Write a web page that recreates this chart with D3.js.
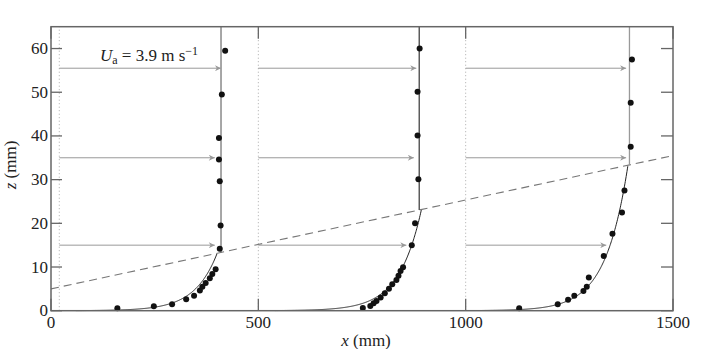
<!DOCTYPE html>
<html><head><meta charset="utf-8">
<script src="https://cdn.jsdelivr.net/npm/d3@7"></script>
<style>body{margin:0;background:#fff}svg{display:block}</style>
</head><body><svg id="c" width="708" height="349"></svg>
<script>
// ---- data ----
const xTicks = [0, 500, 1000, 1500];
const yTicks = [0, 10, 20, 30, 40, 50, 60];
const profileX0 = [20, 500, 1000];          // profile origins (mm)
const profileU = [390, 388, 395];           // free-stream offset (mm)
const logZ0 = [0.0114, 0.0159, 0.0237];     // log-law roughness fit (mm)
const logC = 54;                            // log-law scale (mm per e-fold)
const blX = [0, 1500];                      // boundary-layer edge (dashed)
const blZ = [5, 35.5];
const arrowZ = [55.5, 35, 15];
const arrowEnd = [[410, 395, 395], [881, 875, 857], [1387, 1387, 1339]];
const dots1 = [[420,59.5],[412,49.5],[405,39.5],[405,34.6],[407,29.6],[409,19.5],[407,14.2],[397,9.5],[389,8.4],[383,7.4],[373,6.35],[365,5.5],[359,4.6],[345,3.45],[326,2.6],[292,1.5],[248,1.0],[160,0.55]];
const dots2 = [[889,60],[884,50.1],[884,40.1],[886,30.1],[878,20],[870,15],[849,9.95],[843,9.1],[838,8.0],[833,7.0],[823,6.05],[815,5.05],[805,4.0],[795,3.0],[785,2.2],[778,1.7],[770,1.1],[752,0.6]];
const dots3 = [[1401,57.5],[1398,47.6],[1398,37.5],[1383,27.5],[1377,22.5],[1354,17.6],[1333,12.5],[1297,7.6],[1292,5.5],[1284,4.5],[1262,3.45],[1247,2.5],[1222,1.5],[1129,0.55]];
const dots = [dots1, dots2, dots3];

// ---- chart ----
const FONT = "'Liberation Serif', 'Times New Roman', Times, serif";
const lineColors = ["#777", "#444", "#999"];
const svg = d3.select("#c");
const L = 51, R = 673, T = 26.7, B = 310.7;
const x = d3.scaleLinear().domain([0, 1500]).range([L, R]);
const y = d3.scaleLinear().domain([0, 65]).range([B, T]);
const blSlope = (blZ[1] - blZ[0]) / (blX[1] - blX[0]);
const blAt = xv => blZ[0] + blSlope * (xv - blX[0]);

const defs = svg.append("defs");
defs.append("marker").attr("id", "ah").attr("viewBox", "0 0 10 10").attr("refX", 10).attr("refY", 5)
  .attr("markerWidth", 9).attr("markerHeight", 6).attr("markerUnits", "userSpaceOnUse").attr("orient", "auto")
  .append("path").attr("d", "M0,0 L10,5 L0,10 L3,5 Z").attr("fill", "#999");

profileX0.forEach(x0 => {
  svg.append("line").attr("x1", x(x0)).attr("x2", x(x0)).attr("y1", B).attr("y2", T)
    .attr("stroke", "#aaa").attr("stroke-width", 1).attr("stroke-dasharray", "1,2.5");
});

svg.append("line").attr("x1", x(blX[0])).attr("y1", y(blZ[0])).attr("x2", x(blX[1])).attr("y2", y(blZ[1]))
  .attr("stroke", "#777").attr("stroke-width", 1.1).attr("stroke-dasharray", "8,5");

profileX0.forEach((x0, i) => {
  const xv = x0 + profileU[i];
  svg.append("line").attr("x1", x(xv)).attr("x2", x(xv)).attr("y1", y(blAt(xv))).attr("y2", T)
    .attr("stroke", lineColors[i]).attr("stroke-width", 1.3);
  const pts = [];
  for (let xx = x0 + 40; xx <= xv + 5; xx += 1) {
    const z = logZ0[i] * Math.exp((xx - x0) / logC);
    if (z > blAt(xx)) break;
    pts.push([xx, z]);
  }
  svg.append("path").attr("d", d3.line().x(d => x(d[0])).y(d => y(d[1]))(pts))
    .attr("fill", "none").attr("stroke", "#222").attr("stroke-width", 1);
  arrowZ.forEach((z, j) => {
    svg.append("line").attr("x1", x(x0)).attr("x2", x(arrowEnd[i][j])).attr("y1", y(z)).attr("y2", y(z))
      .attr("stroke", "#999").attr("stroke-width", 1).attr("marker-end", "url(#ah)");
  });
  svg.selectAll(null).data(dots[i]).enter().append("circle")
    .attr("cx", d => x(d[0])).attr("cy", d => y(d[1])).attr("r", 3).attr("fill", "#111");
});

svg.append("rect").attr("x", L).attr("y", T).attr("width", R - L).attr("height", B - T)
  .attr("fill", "none").attr("stroke", "#666").attr("stroke-width", 1.5);

const tk = 12;
const FS = 17;
const txt = () => svg.append("text").attr("font-family", FONT).attr("fill", "#222").attr("font-size", FS);
xTicks.forEach(t => {
  svg.append("line").attr("x1", x(t)).attr("x2", x(t)).attr("y1", B).attr("y2", B - tk).attr("stroke", "#666").attr("stroke-width", 1.3);
  svg.append("line").attr("x1", x(t)).attr("x2", x(t)).attr("y1", T).attr("y2", T + tk).attr("stroke", "#666").attr("stroke-width", 1.3);
  txt().attr("x", x(t)).attr("y", B + 17).attr("text-anchor", "middle").text(t);
});
yTicks.forEach(t => {
  svg.append("line").attr("x1", L).attr("x2", L + 11).attr("y1", y(t)).attr("y2", y(t)).attr("stroke", "#666").attr("stroke-width", 1.3);
  svg.append("line").attr("x1", R).attr("x2", R - 12).attr("y1", y(t)).attr("y2", y(t)).attr("stroke", "#666").attr("stroke-width", 1.3);
  txt().attr("x", L - 3).attr("y", y(t) + 5.5).attr("text-anchor", "end").text(t);
});

const xl = txt().attr("x", 366).attr("y", 346).attr("text-anchor", "middle");
xl.append("tspan").attr("font-style", "italic").text("x");
xl.append("tspan").text(" (mm)");
const yl = txt().attr("transform", "translate(16,165) rotate(-90)").attr("text-anchor", "middle");
yl.append("tspan").attr("font-style", "italic").text("z");
yl.append("tspan").text(" (mm)");

const ann = txt().attr("x", 100).attr("y", 61);
ann.append("tspan").attr("font-style", "italic").text("U");
ann.append("tspan").attr("font-size", 12).attr("dy", 3).text("a");
ann.append("tspan").attr("dy", -3).text(" = 3.9 m s");
ann.append("tspan").attr("font-size", 12).attr("dy", -6).text("\u22121");
</script></body></html>
